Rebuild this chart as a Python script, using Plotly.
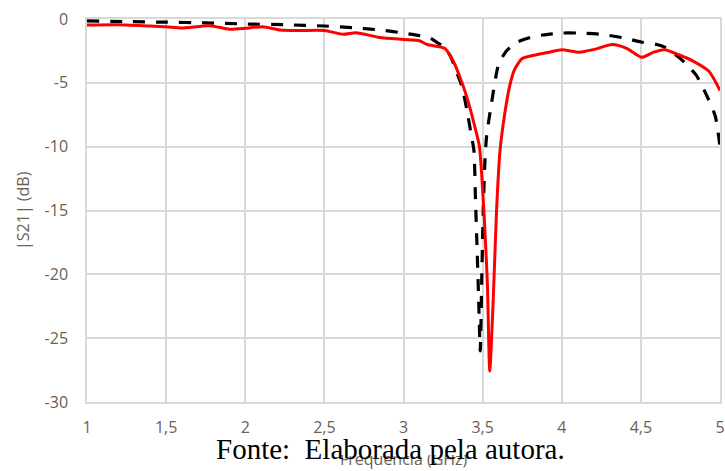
import plotly.graph_objects as go

# ---- data ----
freq_sim = [1.0, 1.25, 1.5, 1.75, 2.0, 2.25, 2.5, 2.7, 2.85, 3.0, 3.1, 3.17, 3.22, 3.26, 3.3,
            3.34, 3.37, 3.40, 3.43, 3.445, 3.455, 3.465, 3.475, 3.485, 3.495, 3.505, 3.515,
            3.525, 3.556, 3.6, 3.65, 3.72, 3.8, 3.88, 4.0, 4.1, 4.25, 4.4, 4.5, 4.6, 4.65,
            4.75, 4.85, 4.92, 4.97, 5.0]
s21_sim = [-0.15, -0.2, -0.25, -0.3, -0.39, -0.45, -0.55, -0.7, -0.86, -1.1, -1.3, -1.5, -1.9, -2.2, -3.0,
           -4.3, -5.3, -7.1, -9.2, -10.3, -14.2, -18.0, -22.0, -26.0, -20.0, -14.5, -11.0,
           -9.2, -6.6, -3.6, -2.5, -1.8, -1.45, -1.25, -1.1, -1.1, -1.2, -1.5, -1.8, -2.0, -2.2,
           -3.1, -4.4, -6.1, -7.6, -10.0]

freq_meas = [1.0, 1.2, 1.4, 1.5, 1.6, 1.775, 1.9, 2.0, 2.11, 2.22, 2.35, 2.5, 2.62, 2.70, 2.85,
             3.0, 3.1, 3.15, 3.26, 3.31, 3.355, 3.40, 3.45, 3.48, 3.51, 3.53, 3.545, 3.567,
             3.588, 3.61, 3.64, 3.67, 3.70, 3.75, 3.84, 3.92, 4.0, 4.11, 4.2, 4.32, 4.41,
             4.505, 4.58, 4.65, 4.74, 4.83, 4.93, 5.0]
s21_meas = [-0.47, -0.45, -0.55, -0.6, -0.7, -0.52, -0.8, -0.73, -0.6, -0.86, -0.9, -0.9, -1.2, -1.07, -1.45,
            -1.6, -1.7, -2.0, -2.3, -3.2, -4.5, -6.1, -8.4, -10.0, -15.5, -20.7, -27.6, -22.0,
            -15.0, -10.3, -7.4, -5.3, -4.0, -3.1, -2.8, -2.6, -2.4, -2.6, -2.4, -2.0, -2.3,
            -3.0, -2.6, -2.4, -2.8, -3.3, -4.1, -5.6]

x_tickvals = [1, 1.5, 2, 2.5, 3, 3.5, 4, 4.5, 5]
x_ticktext = ["1", "1,5", "2", "2,5", "3", "3,5", "4", "4,5", "5"]
y_tickvals = [0, -5, -10, -15, -20, -25, -30]
y_ticktext = ["0", "-5", "-10", "-15", "-20", "-25", "-30"]

x_title = "Frequência (GHz)"
y_title = "|S21| (dB)"
caption = "Fonte:\u00a0 Elaborada pela autora."

label_color = "#6b5f56"
grid_color = "#d9d9d9"

fig = go.Figure()
fig.add_trace(go.Scatter(x=freq_sim, y=s21_sim, mode="lines",
                         line=dict(color="black", width=3.2, dash="12px,11px",
                                   shape="spline", smoothing=0.6),
                         showlegend=False))
fig.add_trace(go.Scatter(x=freq_meas, y=s21_meas, mode="lines",
                         line=dict(color="#ff0000", width=3, shape="spline", smoothing=0.6),
                         showlegend=False))

fig.update_layout(
    width=725, height=471,
    margin=dict(l=87, r=5, t=19, b=69),
    paper_bgcolor="white", plot_bgcolor="white",
    font=dict(family="Open Sans", color=label_color, size=16),
    xaxis=dict(range=[1, 5], tickvals=x_tickvals, ticktext=x_ticktext, automargin=False,
               showgrid=True, gridcolor=grid_color, gridwidth=1.5,
               showline=True, linecolor=grid_color, linewidth=1.5, mirror=True,
               zeroline=False, ticks="", ticklabelstandoff=10,
               tickfont=dict(size=16, color=label_color)),
    yaxis=dict(range=[-30, 0], tickvals=y_tickvals, ticktext=y_ticktext, automargin=False,
               showgrid=True, gridcolor=grid_color, gridwidth=1.5,
               showline=True, linecolor=grid_color, linewidth=1.5, mirror=True,
               zeroline=False, ticks="", ticklabelstandoff=14,
               tickfont=dict(size=16, color=label_color)),
)

# x-axis title: top part hidden as in the reference (clipped box, bottom-aligned)
fig.add_annotation(text=x_title, xref="paper", yref="paper", x=0.5, y=(402 - 471) / 383,
                   xanchor="center", yanchor="bottom", showarrow=False,
                   height=15, valign="bottom", borderpad=0,
                   font=dict(family="Open Sans", size=16, color=label_color))
fig.add_annotation(text=y_title, xref="paper", yref="paper", x=(23 - 87.5) / 632.5, y=0.5,
                   xanchor="center", yanchor="middle", textangle=-90, showarrow=False,
                   font=dict(family="Open Sans", size=16, color=label_color))
fig.add_annotation(text=caption, xref="paper", yref="paper", x=(390.5 - 87.5) / 632.5,
                   y=(402 - 449) / 383, xanchor="center", yanchor="middle", showarrow=False,
                   borderpad=0,
                   font=dict(family="Liberation Serif", size=29, color="black"))

fig.write_html("out.html", config={"displayModeBar": False},
               post_script="document.body.style.margin='0';document.body.style.overflow='hidden';")
